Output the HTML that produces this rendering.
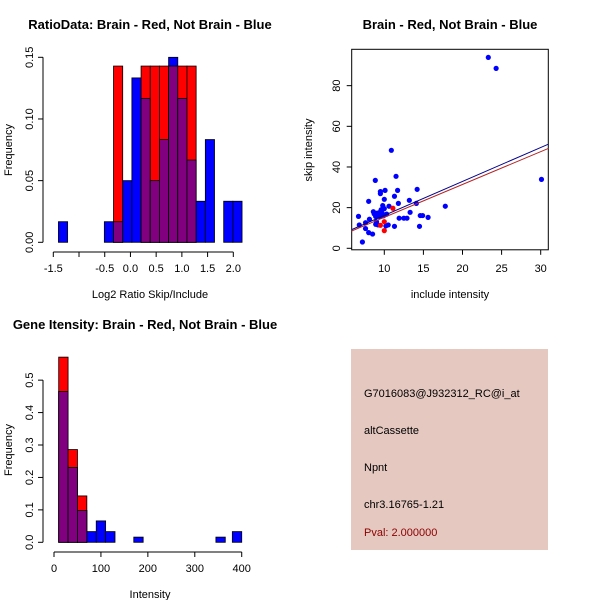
<!DOCTYPE html>
<html><head><meta charset="utf-8"><style>
body{margin:0;background:#fff}
svg{display:block;font-family:"Liberation Sans",sans-serif}
</style></head><body>
<svg id="c" width="600" height="600" xmlns="http://www.w3.org/2000/svg">
<rect x="0" y="0" width="600" height="600" fill="#fff"/>
<g id="p1"></g>
<g id="p2"></g>
<g id="p3"></g>
<g>
<rect x="351" y="349" width="197" height="201" fill="#E5C8C0"/>
<text x="364" y="397" font-size="11" fill="#000">G7016083@J932312_RC@i_at</text>
<text x="364" y="434" font-size="11" fill="#000">altCassette</text>
<text x="364" y="471" font-size="11" fill="#000">Npnt</text>
<text x="364" y="508" font-size="11" fill="#000">chr3.16765-1.21</text>
<text x="364" y="536" font-size="11" fill="#8B0000">Pval: 2.000000</text>
</g>
</svg>
<script>
// ---- Panel 1 data: ratio histogram ----
const ratioBinStart = -1.4;
const ratioBinWidth = 0.1785;
const ratioBlue = [0.0167,0,0,0,0,0.0167,0.0167,0.05,0.1333,0.1167,0.05,0.0833,0.15,0.1167,0.0667,0.0333,0.0833,0,0.0333,0.0333];
const ratioRed  = [0,0,0,0,0,0,0.1429,0,0,0.1429,0.1429,0.1429,0.1429,0.1429,0.1429,0,0,0,0,0];
const ratioXTicks = [-1.5,-1.0,-0.5,0.0,0.5,1.0,1.5,2.0];
const ratioXLabels = ["-1.5","","-0.5","0.0","0.5","1.0","1.5","2.0"];
const ratioYTicks = [0,0.05,0.10,0.15];
const ratioYLabels = ["0.00","0.05","0.10","0.15"];
// ---- Panel 2 data: scatter ----
const blueX = [23.3,24.3,30.1,10.9,11.5,8.85,14.2,11.7,9.5,9.5,10.1,11.3,10.0,11.8,8.0,13.2,14.1,10.6,17.8,9.8,10.0,8.6,13.3,6.7,14.6,14.9,15.6,9.1,9.3,9.5,9.7,8.9,9.0,9.4,9.9,6.8,7.6,8.1,11.9,12.5,12.9,11.3,14.5,10.5,10.2,7.6,8.0,8.5,7.2,8.9,9.2,10.3,9.6,8.7];
const blueY = [93.9,88.5,33.9,48.2,35.4,33.4,29.0,28.5,27.9,26.9,28.5,25.6,24.1,22.1,23.1,23.6,22.1,20.7,20.7,21.0,19.5,18.0,17.7,15.7,16.1,16.1,15.2,17.3,16.4,18.0,17.5,15.6,13.1,15.6,16.0,11.5,12.6,14.3,14.8,14.8,14.8,10.8,10.8,11.5,11.0,9.7,7.7,7.0,3.1,11.8,11.5,16.8,19.0,17.0];
const redX = [11.1,10.0,10.0,9.5];
const redY = [19.7,13.1,8.7,11.3];
const blueFit = [-0.52,1.67];
const redFit = [-0.9,1.615];
const scXTicks = [10,15,20,25,30];
const scYTicks = [0,20,40,60,80];
// ---- Panel 3 data: intensity histogram ----
const intBinStart = [10,30,50,70,90,110,170,345,380];
const intBinWidth = 20;
const intBlue = [0.465,0.231,0.098,0.033,0.066,0.033,0.016,0.016,0.033];
const intRed  = [0.571,0.286,0.143,0,0,0,0,0,0];
const intXTicks = [0,100,200,300,400];
const intYTicks = [0,0.1,0.2,0.3,0.4,0.5];

const NS="http://www.w3.org/2000/svg";
function mk(parent,tag,attrs,txt){const e=document.createElementNS(NS,tag);for(const k in attrs)e.setAttribute(k,attrs[k]);if(txt!==undefined)e.textContent=txt;parent.appendChild(e);return e;}

// Panel 1
(function(){
  const g=document.getElementById('p1');
  const x=v=>53.3+(v+1.5)*51.43, y=v=>242.3-v*1233.3;
  for(let i=0;i<ratioBlue.length;i++){
    const x0=x(ratioBinStart+i*ratioBinWidth), w=ratioBinWidth*51.43;
    const b=ratioBlue[i], r=ratioRed[i];
    if(b>0){const e=mk(g,'rect',{x:x0,y:y(b),width:w,height:y(0)-y(b),fill:'#0000FF',stroke:'#000','stroke-width':0.8});
      }
    if(r>0){const e=mk(g,'rect',{x:x0,y:y(r),width:w,height:y(0)-y(r),fill:'#FF0000',stroke:'#000','stroke-width':0.8});
      }
    const m=Math.min(b,r);
    if(m>0){const e=mk(g,'rect',{x:x0,y:y(m),width:w,height:y(0)-y(m),fill:'#800080',stroke:'#000','stroke-width':0.8});
      }
  }
  const ax=mk(g,'line',{x1:x(-1.5),x2:x(2.0),y1:252,y2:252,stroke:'#000'});
  
  ratioXTicks.forEach((t,i)=>{mk(g,'line',{x1:x(t),x2:x(t),y1:252,y2:257,stroke:'#000'});
    const e=mk(g,'text',{x:x(t),y:272,'font-size':11,'text-anchor':'middle'},ratioXLabels[i]);
    });
  const ay=mk(g,'line',{x1:43,x2:43,y1:y(0),y2:y(0.15),stroke:'#000'});
  
  ratioYTicks.forEach((t,i)=>{mk(g,'line',{x1:38,x2:43,y1:y(t),y2:y(t),stroke:'#000'});
    const e=mk(g,'text',{x:33,y:y(t),'font-size':11,'text-anchor':'middle',transform:`rotate(-90 33 ${y(t)})`},ratioYLabels[i]);
    });
  let e=mk(g,'text',{x:150,y:29,'font-size':13,'font-weight':'bold','text-anchor':'middle'},'RatioData: Brain - Red, Not Brain - Blue');
  
  e=mk(g,'text',{x:150,y:298,'font-size':11,'text-anchor':'middle'},'Log2 Ratio Skip/Include');
  
  e=mk(g,'text',{x:12,y:150,'font-size':11,'text-anchor':'middle',transform:'rotate(-90 12 150)'},'Frequency');
  
})();

// Panel 2
(function(){
  const g=document.getElementById('p2');
  const x=v=>384.3+(v-10)*7.82, y=v=>248.3-v*2.033;
  const box=mk(g,'rect',{x:351.7,y:49.3,width:196.6,height:200.5,fill:'none',stroke:'#000'});
  
  const clip=mk(g,'clipPath',{id:'sc'});mk(clip,'rect',{x:351.7,y:49.3,width:196.6,height:200.5});
  const lg=mk(g,'g',{'clip-path':'url(#sc)'});
  for(let i=0;i<blueX.length;i++){const e=mk(lg,'circle',{cx:x(blueX[i]),cy:y(blueY[i]),r:2.6,fill:'#0000FF'});
    }
  for(let i=0;i<redX.length;i++){const e=mk(lg,'circle',{cx:x(redX[i]),cy:y(redY[i]),r:2.6,fill:'#FF0000'});
    }
  [[blueFit,'#00008B','blue-fit-line'],[redFit,'#B22222','red-fit-line']].forEach(([f,c,n])=>{
    const e=mk(lg,'line',{x1:x(5),y1:y(f[0]+f[1]*5),x2:x(32),y2:y(f[0]+f[1]*32),stroke:c,'stroke-width':1});
    });
  scXTicks.forEach(t=>{mk(g,'line',{x1:x(t),x2:x(t),y1:249.8,y2:254.8,stroke:'#000'});
    const e=mk(g,'text',{x:x(t),y:272,'font-size':11,'text-anchor':'middle'},String(t));
    });
  scYTicks.forEach(t=>{mk(g,'line',{x1:346.7,x2:351.7,y1:y(t),y2:y(t),stroke:'#000'});
    const e=mk(g,'text',{x:340,y:y(t),'font-size':11,'text-anchor':'middle',transform:`rotate(-90 340 ${y(t)})`},String(t));
    });
  let e=mk(g,'text',{x:450,y:29,'font-size':13,'font-weight':'bold','text-anchor':'middle'},'Brain - Red, Not Brain - Blue');
  
  e=mk(g,'text',{x:450,y:298,'font-size':11,'text-anchor':'middle'},'include intensity');
  
  e=mk(g,'text',{x:312,y:150,'font-size':11,'text-anchor':'middle',transform:'rotate(-90 312 150)'},'skip intensity');
  
})();

// Panel 3
(function(){
  const g=document.getElementById('p3');
  const x=v=>54+v*0.4693, y=v=>542.3-v*324.3;
  for(let i=0;i<intBlue.length;i++){
    const x0=x(intBinStart[i]), w=intBinWidth*0.4693, b=intBlue[i], r=intRed[i];
    if(b>0){const e=mk(g,'rect',{x:x0,y:y(b),width:w,height:y(0)-y(b),fill:'#0000FF',stroke:'#000','stroke-width':0.8});
      }
    if(r>0){const e=mk(g,'rect',{x:x0,y:y(r),width:w,height:y(0)-y(r),fill:'#FF0000',stroke:'#000','stroke-width':0.8});
      }
    const m=Math.min(b,r);
    if(m>0){const e=mk(g,'rect',{x:x0,y:y(m),width:w,height:y(0)-y(m),fill:'#800080',stroke:'#000','stroke-width':0.8});
      }
  }
  const ax=mk(g,'line',{x1:x(0),x2:x(400),y1:552,y2:552,stroke:'#000'});
  
  intXTicks.forEach(t=>{mk(g,'line',{x1:x(t),x2:x(t),y1:552,y2:557,stroke:'#000'});
    const e=mk(g,'text',{x:x(t),y:572,'font-size':11,'text-anchor':'middle'},String(t));
    });
  const ay=mk(g,'line',{x1:43,x2:43,y1:y(0),y2:y(0.5),stroke:'#000'});
  
  intYTicks.forEach(t=>{mk(g,'line',{x1:38,x2:43,y1:y(t),y2:y(t),stroke:'#000'});
    const e=mk(g,'text',{x:33,y:y(t),'font-size':11,'text-anchor':'middle',transform:`rotate(-90 33 ${y(t)})`},t===0?'0.0':String(t));
    });
  let e=mk(g,'text',{x:145,y:329,'font-size':13,'font-weight':'bold','text-anchor':'middle'},'Gene Itensity: Brain - Red, Not Brain - Blue');
  
  e=mk(g,'text',{x:150,y:598,'font-size':11,'text-anchor':'middle'},'Intensity');
  
  e=mk(g,'text',{x:12,y:450,'font-size':11,'text-anchor':'middle',transform:'rotate(-90 12 450)'},'Frequency');
  
})();
</script>
</body></html>
